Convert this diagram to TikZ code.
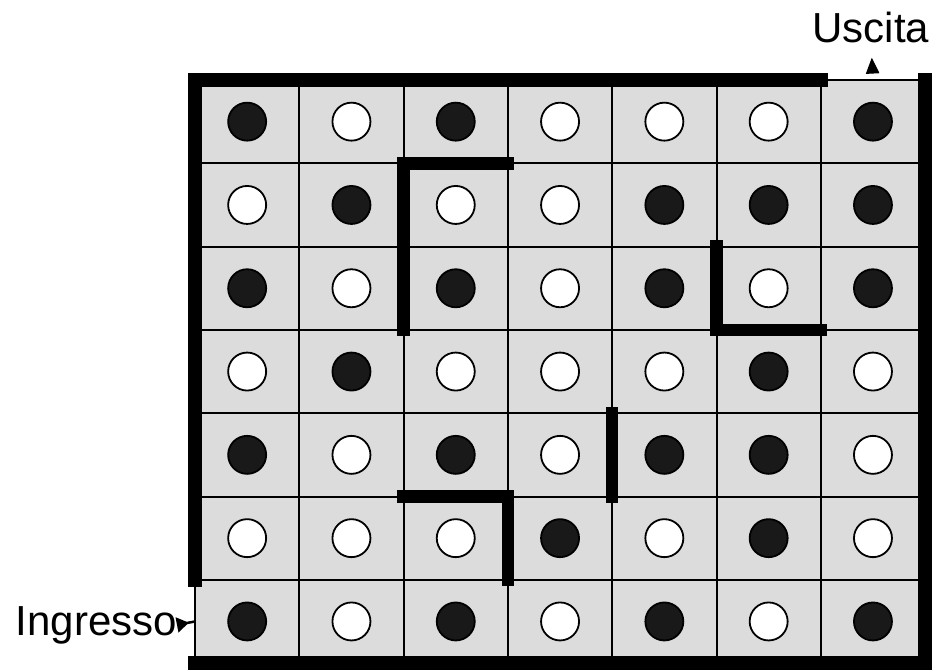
\documentclass[tikz,border=0pt]{standalone}
\usepackage{fontspec}
\setmainfont{Liberation Sans}
\usetikzlibrary{arrows.meta}
\definecolor{cellgray}{RGB}{220,220,220}
\tikzset{
  cell/.style   ={draw, line width=2pt, fill=cellgray, minimum width=104.3pt, minimum height=83.3pt, inner sep=0pt, outer sep=0pt},
  dot/.style    ={circle, draw, line width=1.8pt, fill=#1, minimum size=38pt, inner sep=0pt},
  wall/.style   ={line width=12.5pt, line cap=rect, line join=miter},
  border/.style ={line width=14pt, line cap=rect, line join=miter},
  lbl/.style    ={font=\fontsize{42}{50}\selectfont, inner sep=0pt},
  arr/.style    ={line width=2.5pt},
}

\begin{document}
\begin{tikzpicture}[x=1pt, y=-1pt]
  \useasboundingbox (0,0) rectangle (936,669);
  % cells, row by row (k = black, w = white)
  \foreach \row [count=\i] in {{k,w,k,w,w,w,k},{w,k,w,w,k,k,k},{k,w,k,w,k,w,k},{w,k,w,w,w,k,w},{k,w,k,w,k,k,w},{w,w,w,k,w,k,w},{k,w,k,w,k,w,k}}
    \foreach \v [count=\j] in \row {
      \node[cell] (c\i\j) at ({195+(\j-0.5)*104.3},{80+(\i-0.5)*83.3}) {};
      \if k\v
        \node[dot=black!90] (d\i\j) at (c\i\j) {};
      \else
        \node[dot=white] (d\i\j) at (c\i\j) {};
      \fi
    }
  % outer walls
  \draw[border] (c61.south west) -- (c11.north west) -- (c16.north east);
  \draw[border] (c71.south west) -- (c77.south east) -- (c17.north east);
  % inner walls
  \draw[wall] (c23.north east) -- (c23.north west) -- (c33.south west);
  \draw[wall] (c36.north west) -- (c36.south west) -- (c36.south east);
  \draw[wall] (c55.north west) -- (c55.south west);
  \draw[wall] (c63.north west) -- (c63.north east) -- (c63.south east);
  % entry and exit
  \node[lbl, anchor=base] (uscita) at (871,43) {Uscita};
  \node[lbl, anchor=base east] (ingresso) at (177,635) {Ingresso};
  \draw[arr, -{Triangle[length=16pt,width=13pt]}, shorten <=7pt, shorten >=14pt] (c17.north) -- (uscita.south);
  \draw[arr, {Triangle[reversed,length=12pt,width=15pt]}-] (ingresso.east) -- (c71.west);
\end{tikzpicture}
\end{document}
